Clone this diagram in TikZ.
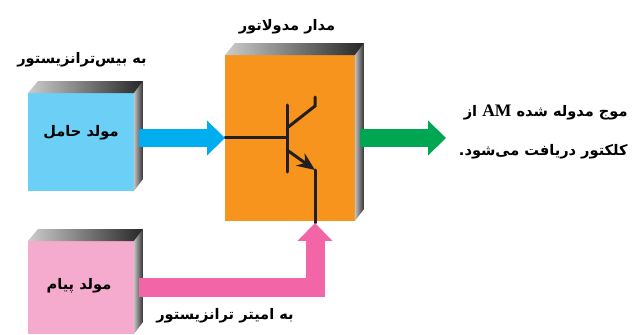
\documentclass[tikz,border=0pt]{standalone}
\usepackage{fontspec}
\usetikzlibrary{arrows.meta,positioning}
\TeXXeTstate=1
\newfontfamily\arabicfont[Script=Arabic]{DejaVu Sans}
\setmainfont{Liberation Serif}
\definecolor{carrierblue}{HTML}{6BCFF6}
\definecolor{arrowblue}{HTML}{00AEEF}
\definecolor{modorange}{HTML}{F7941E}
\definecolor{arrowgreen}{HTML}{00A651}
\definecolor{msgpink}{HTML}{F5ABCD}
\definecolor{arrowpink}{HTML}{F266A8}
\definecolor{wire}{HTML}{231F20}
\newcommand{\fa}[1]{{\arabicfont\bfseries\fontsize{8.3pt}{10pt}\selectfont\beginR #1\endR}}
% shaded top and right faces behind a box node
\newcommand{\boxsides}[1]{
	\shade[left color=black!20,right color=black!85] (#1.north west)--++(10,-12)-|([xshift=0.18cm]#1.north east)--(#1.north east)--cycle;
	\shade[left color=black!25,right color=black!80] (#1.north east)--++(9,-12)--([shift={(0.18cm,0.24cm)}]#1.south east)--(#1.south east)--cycle;
}
\tikzset{
	facebox/.style={inner sep=0pt,outer sep=0pt},
	lab/.style={inner sep=0pt,text=black},
	wireline/.style={draw=wire,line width=0.06cm,line cap=round},
	fatarrow/.style={line width=0.38cm,-{Triangle[length=0.36cm,width=0.68cm]}},
}
\begin{document}
\begin{tikzpicture}[x=0.02cm,y=-0.02cm]
	\useasboundingbox (0,0) rectangle (641,334);
	\node[facebox,fill=carrierblue,minimum width=2.12cm,minimum height=1.96cm] (carrier) at (81,142) {};
	\node[facebox,fill=msgpink,minimum width=2.12cm,minimum height=1.86cm] (message) at (81,287.5) {};
	\node[facebox,fill=modorange,minimum width=2.6cm,minimum height=3.32cm] (modulator) at (290,138) {};
	\boxsides{carrier}
	\boxsides{message}
	\boxsides{modulator}
	% labels
	\node[lab] (carriername) at (81,133) {\fa{مولد حامل}};
	\node[lab] (messagename) at (79,286) {\fa{مولد پیام}};
	\node[lab] (modname) at (287,27) {\fa{مدار مدولاتور}};
	\node[lab] (baselabel) at (82,60) {\fa{به بیس‌ترانزیستور}};
	\node[lab] (emitterlabel) at (225,316) {\fa{به امیتر ترانزیستور}};
	\node[lab,anchor=east] (outone) at (628,112) {\fa{موج مدوله شده \beginL\textbf{\fontspec{Liberation Serif}\fontsize{10pt}{10pt}\selectfont AM}\endL{} از}};
	\node[lab,anchor=east] (outtwo) at (628,152) {\fa{کلکتور دریافت می‌شود.}};
	% transistor
	\coordinate (bartop) at (287,105);
	\coordinate (barbot) at (287,172);
	\coordinate (barmid) at (287,138);
	\coordinate (collin) at (287,128);
	\coordinate (collknee) at (315,106);
	\coordinate (colltop) at (315,97);
	\coordinate (emitin) at (287,150);
	\coordinate (emitknee) at (315,170);
	\coordinate (emitdown) at (315,223);
	\draw[wireline] (bartop)--(barbot);
	\draw[wireline] (modulator.west)--(barmid);
	\draw[wireline] (collin)--(collknee)--(colltop);
	\draw[wireline,-{Stealth[length=0.36cm,width=0.3cm]}] (emitin)--(emitknee);
	\draw[wireline] (emitknee)--(emitdown);
	% fat arrows
	\coordinate (blueout) at (139,138);
	\coordinate (greenout) at (360,138);
	\coordinate (greentip) at (446,138);
	\coordinate (pinkout) at (139,287);
	\draw[fatarrow,arrowblue] (blueout)--(modulator.west);
	\draw[fatarrow,arrowgreen] (greenout)--(greentip);
	\draw[fatarrow,arrowpink] (pinkout)-|(emitdown);
\end{tikzpicture}
\end{document}
